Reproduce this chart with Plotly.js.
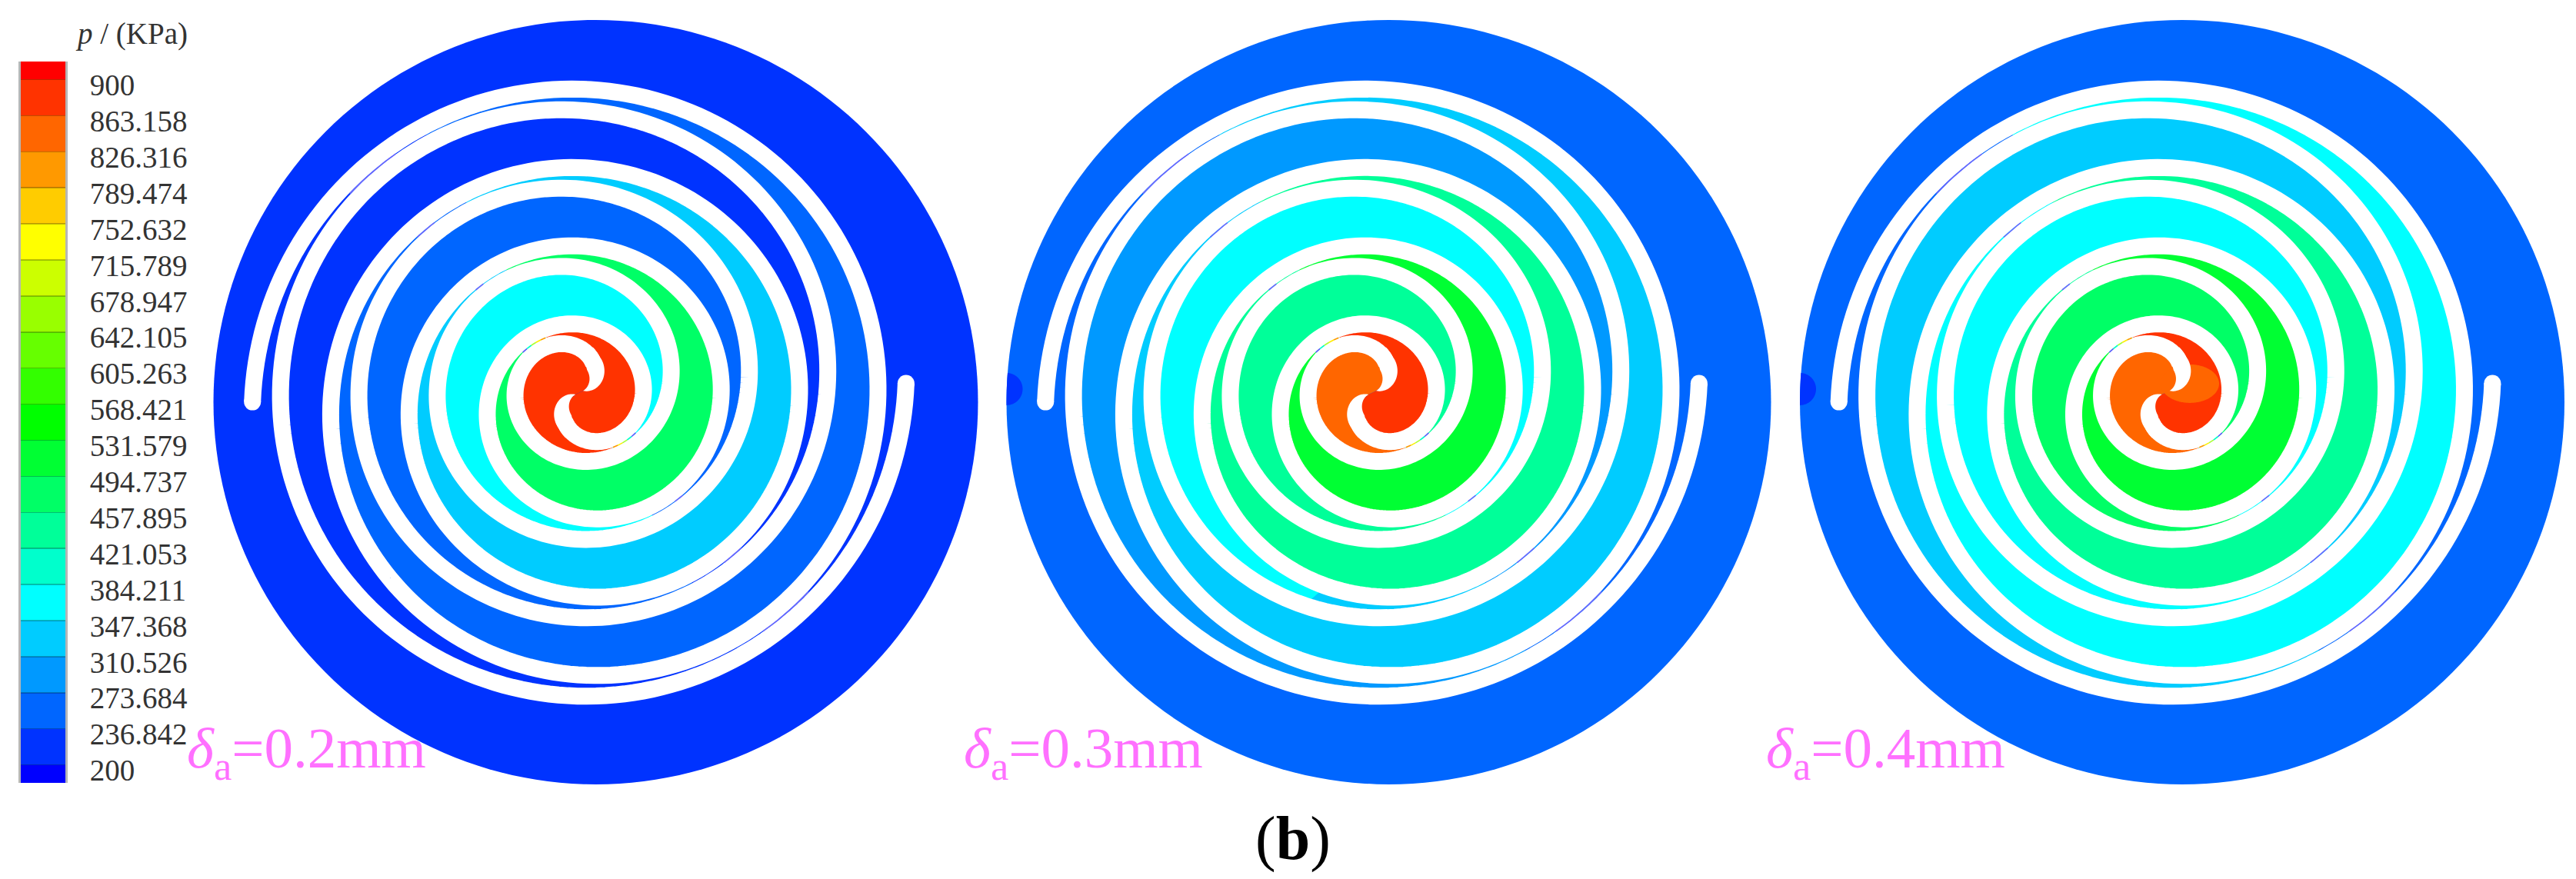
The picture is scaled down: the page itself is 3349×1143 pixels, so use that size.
<!DOCTYPE html>
<html>
<head>
<meta charset="utf-8">
<script src="https://cdn.plot.ly/plotly-3.0.1.min.js"></script>
<style>
html, body { margin: 0; padding: 0; background: #fff; }
</style>
</head>
<body>
<div id="chart" style="width:3349px;height:1143px"></div>
<script>
// legend levels, KPa
var levels = [900, 863.158, 826.316, 789.474, 752.632, 715.789, 678.947, 642.105, 605.263, 568.421, 531.579, 494.737, 457.895, 421.053, 384.211, 347.368, 310.526, 273.684, 236.842, 200];
var levelLabels = ["900", "863.158", "826.316", "789.474", "752.632", "715.789", "678.947", "642.105", "605.263", "568.421", "531.579", "494.737", "457.895", "421.053", "384.211", "347.368", "310.526", "273.684", "236.842", "200"];
var bandColors = ["#ff0000", "#ff3300", "#ff6600", "#ff9900", "#ffcc00", "#ffff00", "#ccff00", "#99ff00", "#66ff00", "#33ff00", "#00ff00", "#00ff33", "#00ff66", "#00ff99", "#00ffcc", "#00ffff", "#00ccff", "#0099ff", "#0066ff", "#0033ff", "#0000ff"];

// pressure read per chamber, outer chamber first (estimated from the band colour)
var chambers = ["outer", "Y1", "X1", "Y2", "X2", "Y3", "X3", "Y4", "X4"];
var pGap02 = [218, 218, 255, 255, 329, 366, 476, 882, 882];
var pGap03 = [255, 292, 329, 366, 439, 439, 513, 845, 882];
var pGap04 = [255, 329, 366, 366, 439, 476, 513, 845, 882];
var captions = ["0.2mm", "0.3mm", "0.4mm"];
var inletP = [null, 218, 218];
var blobP = [null, null, 845];
var y2TailP = [null, 329, null];
var centreSlit = ["#5a5aff", "#00ffcc", "#aaff33", "#ffee00", "#ff9900"];

// geometry in page pixels
var discX = [774.5, 1805.5, 2837];
var discY = 522.9;
var discR = 497;
var wallPitch = 102.1;
var wallStart = 432;
var wallEnd = 8 * Math.PI;
var hookFrom = 8 * Math.PI - 0.785;
var tipPhi = 8 * Math.PI + 0.67;
var tipR = 15.5;
var wallWidth = 22;
var contact = 1.035;
var offA = [-14.3, -0.3];
var offB = [-28.6, -24.4];
var captionX = [241, 1251, 2294];

function bandColor(p) {
  var i = 0;
  while (i < levels.length && p < levels[i]) i++;
  return bandColors[i];
}

function radius(phi) {
  return wallStart - wallPitch * phi / (2 * Math.PI);
}

// phi runs clockwise from the wall's outer tip, B starts half a turn after A
function polar(cx, wall, phi, r) {
  var psi = wall === "A" ? phi : phi + Math.PI;
  var off = wall === "A" ? offA : offB;
  return [cx + off[0] - r * Math.cos(psi), discY + off[1] - r * Math.sin(psi)];
}

function wallPoint(cx, wall, phi) {
  return polar(cx, wall, phi, radius(phi));
}

function walk(cx, wall, from, to) {
  var pts = [];
  var n = Math.ceil(Math.abs(to - from) / 0.03);
  for (var i = 0; i <= n; i++) {
    pts.push(wallPoint(cx, wall, from + (to - from) * i / n));
  }
  return pts;
}

function xs(pts) { return pts.map(function (p) { return p[0]; }); }
function ys(pts) { return pts.map(function (p) { return p[1]; }); }

function polyTrace(pts, color) {
  return {
    x: xs(pts), y: ys(pts),
    mode: "lines", fill: "toself", fillcolor: color,
    line: { width: 0, simplify: false }, hoverinfo: "skip"
  };
}

function ring(x, y, rx, ry, cx) {
  var pts = [];
  for (var i = 0; i <= 200; i++) {
    var a = i / 200 * 2 * Math.PI;
    var px = x + rx * Math.cos(a);
    var py = y + ry * Math.sin(a);
    if (cx !== undefined) {
      var d = Math.sqrt((px - cx) * (px - cx) + (py - discY) * (py - discY));
      if (d > discR) {
        px = cx + (px - cx) * discR / d;
        py = discY + (py - discY) * discR / d;
      }
    }
    pts.push([px, py]);
  }
  return pts;
}

function chamberTrace(cx, name, p) {
  var outer = name[0] === "X" ? "A" : "B";
  var inner = name[0] === "X" ? "B" : "A";
  var k = parseInt(name[1]) - 1;
  var s = contact + 2 * Math.PI * k;
  var pts;
  if (k === 3) {
    // the two centre lobes meet on the line between the wall tips
    pts = walk(cx, outer, s, wallEnd)
      .concat([polar(cx, outer, tipPhi, tipR), polar(cx, inner, tipPhi, tipR)])
      .concat(walk(cx, inner, wallEnd, s + Math.PI));
  } else {
    pts = walk(cx, outer, s, s + 2 * Math.PI).concat(walk(cx, inner, s + 3 * Math.PI, s + Math.PI));
  }
  return polyTrace(pts, bandColor(p));
}

function tailTrace(cx, p) {
  var s = contact + 2 * Math.PI;
  var e = s + 0.81;
  var pts = walk(cx, "B", s, e).concat(walk(cx, "A", e + Math.PI, s + Math.PI));
  return polyTrace(pts, bandColor(p));
}

function wallTrace(cx, wall) {
  var pts = walk(cx, wall, 0, hookFrom);
  return {
    x: xs(pts), y: ys(pts),
    mode: "lines", line: { color: "#fff", width: wallWidth, simplify: false }, hoverinfo: "skip"
  };
}

// the inner end of a wall: round on its outer edge, coming to a point on the inner one
function hookTrace(cx, wall) {
  var inside = [], outside = [];
  var from = hookFrom - 0.3;
  var start = radius(hookFrom) - 11.85;
  var steps = 70;
  for (var i = 0; i <= steps; i++) {
    var phi = from + (tipPhi - from) * i / steps;
    var rIn, thick;
    if (phi < hookFrom) {
      rIn = radius(phi) - 11.85;
      thick = 23.7;
    } else {
      var t = (phi - hookFrom) / (tipPhi - hookFrom);
      rIn = start + (tipR - start) * t;
      thick = 23.7 * (1 - Math.pow(t, 1.7));
    }
    inside.push(polar(cx, wall, phi, rIn));
    outside.unshift(polar(cx, wall, phi, rIn + thick));
  }
  return polyTrace(inside.concat(outside), "#fff");
}

function tipTrace(cx) {
  var a = wallPoint(cx, "A", 0), b = wallPoint(cx, "B", 0);
  return {
    x: [a[0], b[0]], y: [a[1], b[1]],
    mode: "markers", marker: { color: "#fff", size: wallWidth, line: { width: 0 } }, hoverinfo: "skip"
  };
}

// mid line of the thin gap left where two walls nearly touch
function slitTrace(cx, outer, inner, from, to, color) {
  var pts = [];
  var n = Math.ceil((to - from) / 0.02);
  for (var i = 0; i <= n; i++) {
    var phi = from + (to - from) * i / n;
    var a = wallPoint(cx, outer, phi), b = wallPoint(cx, inner, phi + Math.PI);
    pts.push([(a[0] + b[0]) / 2, (a[1] + b[1]) / 2]);
  }
  return {
    x: xs(pts), y: ys(pts),
    mode: "lines", line: { color: color, width: 1.6 }, hoverinfo: "skip"
  };
}

var traces = [];
[pGap02, pGap03, pGap04].forEach(function (vals, d) {
  var cx = discX[d];
  traces.push(polyTrace(ring(cx, discY, discR, discR), bandColor(vals[0])));
  if (inletP[d] !== null) {
    traces.push(polyTrace(ring(cx - discR, discY - 17, 21, 21, cx), bandColor(inletP[d])));
  }
  for (var i = 1; i < chambers.length; i++) {
    traces.push(chamberTrace(cx, chambers[i], vals[i]));
  }
  if (y2TailP[d] !== null) {
    traces.push(tailTrace(cx, y2TailP[d]));
  }
  if (blobP[d] !== null) {
    traces.push(polyTrace(ring(cx + 10, discY - 24, 38, 25), bandColor(blobP[d])));
  }
  traces.push(wallTrace(cx, "A"));
  traces.push(wallTrace(cx, "B"));
  traces.push(hookTrace(cx, "A"));
  traces.push(hookTrace(cx, "B"));
  traces.push(tipTrace(cx));
  for (var k = 0; k < 3; k++) {
    var s = contact - 0.22 + 2 * Math.PI * k;
    var half = 0.1 / (k + 1);
    traces.push(slitTrace(cx, "A", "B", s - half, s + half, "#6a6aff"));
    traces.push(slitTrace(cx, "B", "A", s - half, s + half, "#6a6aff"));
  }
  var c = 6 * Math.PI + 0.62;
  centreSlit.forEach(function (col, j) {
    traces.push(slitTrace(cx, "A", "B", c + j * 0.08, c + (j + 1) * 0.08, col));
    traces.push(slitTrace(cx, "B", "A", c + j * 0.08, c + (j + 1) * 0.08, col));
  });
});

// legend bar
var barEdges = [918.42].concat(levels, [181.58]);
var barZ = bandColors.map(function (c, i) { return [i]; });
var barScale = [];
bandColors.slice().reverse().forEach(function (c, i) {
  barScale.push([i / bandColors.length, c]);
  barScale.push([(i + 1) / bandColors.length, c]);
});
traces.push({
  type: "heatmap", xaxis: "x2", yaxis: "y2",
  x: [0, 1], y: barEdges.slice().reverse(), z: barZ,
  zmin: -0.5, zmax: bandColors.length - 0.5,
  colorscale: barScale, showscale: false, hoverinfo: "skip"
});

var annotations = [{
  xref: "x", yref: "y", x: 96, y: 44, xanchor: "left", yanchor: "middle", showarrow: false,
  text: "<i>p</i> / (KPa)", font: { family: "Liberation Serif", size: 39, color: "#333" }
}, {
  xref: "x", yref: "y", x: 1681, y: 1090, xanchor: "center", yanchor: "middle", showarrow: false,
  text: "(<b>b</b>)", font: { family: "Liberation Serif", size: 80, color: "#000" }
}];
captions.forEach(function (c, i) {
  annotations.push({
    xref: "x", yref: "y", x: captionX[i], y: 978, xanchor: "left", yanchor: "middle", showarrow: false,
    text: "<i>δ</i><sub>a</sub>=" + c, font: { family: "Liberation Serif", size: 75, color: "#ff70ff" }
  });
});

var layout = {
  width: 3349, height: 1143,
  margin: { l: 0, r: 0, t: 0, b: 0 },
  paper_bgcolor: "#fff", plot_bgcolor: "rgba(0,0,0,0)",
  showlegend: false, hovermode: false,
  xaxis: { range: [0, 3349], visible: false, domain: [0, 1] },
  yaxis: { range: [1143, 0], visible: false, domain: [0, 1] },
  xaxis2: { domain: [27 / 3349, 85 / 3349], range: [0, 1], visible: false, anchor: "y2" },
  yaxis2: {
    domain: [1 - 1018 / 1143, 1 - 80 / 1143], range: [181.58, 918.42], anchor: "x2", side: "right",
    tickmode: "array", tickvals: levels, ticktext: levelLabels,
    ticks: "inside", ticklen: 58, tickwidth: 1.5, tickcolor: "rgba(0,0,0,0.25)",
    ticklabelstandoff: 21, ticklabelshift: 7,
    showgrid: false, zeroline: false, showline: true, mirror: true, linewidth: 3, linecolor: "rgba(110,110,110,0.5)",
    tickfont: { family: "Liberation Serif", size: 39, color: "#333" }
  },
  annotations: annotations
};

Plotly.newPlot("chart", traces, layout, { staticPlot: true });
</script>
</body>
</html>
